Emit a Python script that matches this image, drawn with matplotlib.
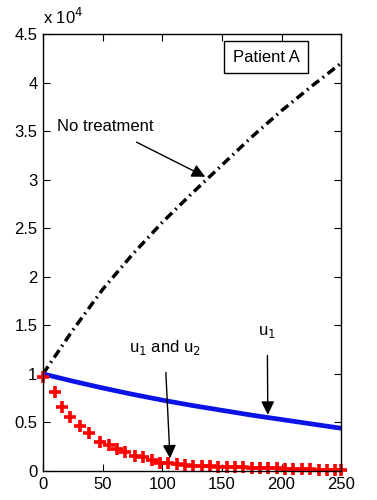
import numpy as np
import matplotlib
matplotlib.use('Agg')
from matplotlib import pyplot as plt
from matplotlib.ticker import FuncFormatter

plt.rcParams['font.family'] = ['Liberation Sans', 'DejaVu Sans']

# no treatment (tumour cells)
t_none = [0, 25, 50, 75, 100, 125, 150, 175, 200, 225, 250]
y_none = [10000, 14500, 18700, 22300, 25600, 28600, 31500, 34400, 37100, 39600, 42000]

# u1 only
t_u1 = [0, 25, 50, 75, 100, 125, 150, 175, 200, 225, 250]
y_u1 = [10000, 9250, 8550, 7900, 7300, 6750, 6250, 5750, 5300, 4850, 4400]

# u1 and u2
t_u12 = [0, 10, 16, 23, 31, 39, 48, 55, 62, 69, 77, 84, 91, 98, 105, 112, 119, 126,
         133, 140, 147, 154, 161, 168, 175, 182, 189, 196, 203, 210, 217, 224, 231, 238, 245, 250]
y_u12 = [9700, 8100, 6600, 5600, 4600, 3900, 3000, 2700, 2300, 2000, 1550, 1400, 1100, 850, 850, 700,
         600, 550, 500, 480, 450, 420, 400, 380, 350, 330, 300, 280, 250, 200, 180, 160, 140, 120, 100, 100]

fig = plt.figure(figsize=(3.77, 5.0), dpi=100)
ax = fig.add_axes([0.114, 0.058, 0.791, 0.874])

ax.plot(t_none, y_none, color='black', lw=2.5, linestyle=(0, (2.6, 1.3, 0.5, 1.3)))
ax.plot(t_u1, y_u1, color='#0a14e6', lw=3.4, solid_capstyle='butt')
ax.plot(t_u12, y_u12, linestyle='none', marker='+', color='red', ms=9, mew=2.6, clip_on=False)

ax.set_xlim(0, 250)
ax.set_ylim(0, 45000)
ax.set_xticks([0, 50, 100, 150, 200, 250])
ax.set_yticks(np.arange(0, 45001, 5000))
ax.yaxis.set_major_formatter(FuncFormatter(lambda v, p: '%g' % (v / 1e4)))
ax.tick_params(direction='in', top=True, right=True, length=5, labelsize=12, pad=4)
for s in ax.spines.values():
    s.set_linewidth(1.0)

ax.text(0.0, 1.015, 'x 10$^4$', transform=ax.transAxes, fontsize=12, ha='left', va='bottom')

ax.text(187, 42600, 'Patient A', fontsize=12, ha='center', va='center',
        bbox=dict(boxstyle='square,pad=0.5', fc='white', ec='black', lw=1))

arrow = dict(arrowstyle='-|>', color='black', lw=1.0, mutation_scale=20)
ax.annotate('No treatment', xy=(136, 30300), xytext=(52, 35500), fontsize=12,
            ha='center', va='center', arrowprops=dict(arrow, shrinkA=9, shrinkB=0))
ax.annotate('u$_1$ and u$_2$', xy=(106.5, 1300), xytext=(102, 12700), fontsize=12,
            ha='center', va='center', arrowprops=dict(arrow, shrinkA=9, shrinkB=0))
ax.annotate('u$_1$', xy=(188.5, 5800), xytext=(188, 14300), fontsize=12,
            ha='center', va='center', arrowprops=dict(arrow, shrinkA=9, shrinkB=0))

fig.savefig('out.png', dpi=100)
